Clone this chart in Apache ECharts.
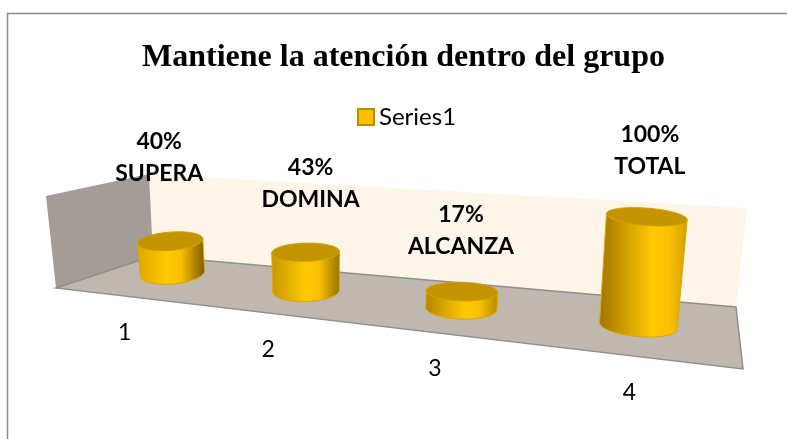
<!DOCTYPE html>
<html><head><meta charset="utf-8">
<style>html,body{margin:0;padding:0;background:#fff}#c{width:787px;height:439px}</style>
<script src="https://cdn.jsdelivr.net/npm/echarts@6/dist/echarts.min.js"></script>
</head><body><div id="c"></div>
<script>
const chartTitle = 'Mantiene la atención dentro del grupo';
const seriesName = 'Series1';
const categories = ['1', '2', '3', '4'];
const levelNames = ['SUPERA', 'DOMINA', 'ALCANZA', 'TOTAL'];
const percentages = [40, 43, 17, 100];

// Hand placed labels of the original, as shifts from the projected cylinder
const labelNudge = [[-11, -84], [5, -69], [-1, -61], [3, -66]];
const tickNudge = [[-48, 59], [-38, 59], [-26.5, 60], [-9, 67]];

const UI = 'Lato, "Open Sans", sans-serif';

// Perspective: s runs along the category axis, t up the value axis (0..1)
function project(s, t) {
  const bx = 114 + 447 * s + 174 * s * s;
  const by = 264.75 + 70 * s;
  const k = 0.76 + 0.38 * s;
  const lean = -8.4 + 19.3 * s;
  return [bx + lean * t, by - 100 * k * t];
}
function ellipse(c, rx, ry, rotDeg, from, to, n) {
  const phi = rotDeg * Math.PI / 180, pts = [];
  for (let i = 0; i <= n; i++) {
    const a = (from + (to - from) * i / n) * Math.PI / 180;
    pts.push([
      c[0] + rx * Math.cos(a) * Math.cos(phi) - ry * Math.sin(a) * Math.sin(phi),
      c[1] + rx * Math.cos(a) * Math.sin(phi) + ry * Math.sin(a) * Math.cos(phi)
    ]);
  }
  return pts;
}
function mix(a, b, f) {
  return 'rgb(' + a.map((v, i) => Math.round(v + (b[i] - v) * f)).join(',') + ')';
}

function renderCylinder(params, api) {
  const i = api.value(0), v = api.value(1), g = params.coordSys;
  const base = api.coord([i, 0]), top = api.coord([i, v]);
  const s = (base[0] - g.x) / g.width;
  const t = (base[1] - top[1]) / g.height;
  const B = project(s, 0), T = project(s, t);
  const rx = 32 + 9 * s * s;
  const rot = 12 * (s - 0.5);
  const rotB = 14 * (s - 0.5);
  const rxT = rx * (1 + 0.04 * t);
  const ryT = 9.4 - 0.8 * t;
  const lower = ellipse(B, rx, 10.5, rotB, 180, 0, 32);
  const upper = ellipse(T, rxT, ryT, rot, 0, 180, 32);
  const leftC = mix([232, 176, 0], [150, 108, 0], s);
  const rightC = mix([105, 78, 0], [226, 170, 0], s);
  const mid = 0.42 + 0.2 * s;
  const grad = new echarts.graphic.LinearGradient(0, 0, 1, 0, [
    { offset: 0, color: leftC },
    { offset: mid, color: '#FFC800' },
    { offset: Math.min(mid + 0.2, 0.92), color: '#FBC000' },
    { offset: 1, color: rightC }
  ]);
  const labelAt = [T[0] + labelNudge[i][0], T[1] + labelNudge[i][1]];
  const tickAt = [B[0] + tickNudge[i][0], B[1] + tickNudge[i][1]];
  return {
    type: 'group',
    children: [
      { type: 'polygon', shape: { points: lower.concat(upper) },
        style: { fill: grad, stroke: '#DCA800', lineWidth: 1 } },
      { type: 'polygon', shape: { points: ellipse(T, rxT, ryT, rot, 0, 360, 48) },
        style: { fill: '#C49500', stroke: '#CFA000', lineWidth: 1 } },
      { type: 'text', x: labelAt[0], y: labelAt[1], z2: 10,
        style: { text: percentages[i] + '%\n' + levelNames[i], fill: '#000', align: 'center',
          verticalAlign: 'middle', font: 'bold 23px ' + UI, lineHeight: 32 } },
      { type: 'text', x: tickAt[0], y: tickAt[1], z2: 10,
        style: { text: categories[i], fill: '#000', align: 'center', verticalAlign: 'middle',
          font: '23px ' + UI } }
    ]
  };
}

const chart = echarts.init(document.getElementById('c'), null, { renderer: 'canvas' });
chart.setOption({
  animation: false,
  backgroundColor: '#fff',
  title: { text: chartTitle, left: 137, top: 37, itemGap: 0,
    textStyle: { fontFamily: '"Liberation Serif", serif', fontWeight: 'bold', fontSize: 32, color: '#000' } },
  legend: { data: [seriesName], icon: 'rect', left: 352, top: 100, itemWidth: 16, itemHeight: 16, itemGap: 5,
    textStyle: { fontFamily: UI, fontSize: 24, color: '#000' } },
  grid: { left: 100, right: 50, top: 120, bottom: 100 },
  xAxis: { type: 'category', data: categories, show: false },
  yAxis: { type: 'value', min: 0, max: 100, show: false },
  graphic: { elements: [
    { type: 'polyline', z: 0, shape: { points: [[7.5, 440], [7.5, 13.5], [790, 13.5]] },
      style: { stroke: '#8C8C8C', lineWidth: 1.5, fill: null } },
    { type: 'polygon', z: 0, shape: { points: [[149, 174], [747, 208], [736, 307], [153, 256]] },
      style: { fill: '#FEF5E9' } },
    { type: 'polygon', z: 0, shape: { points: [[46, 196], [149, 174], [153, 256], [56, 288]] },
      style: { fill: '#A49D97' } },
    { type: 'polygon', z: 0, shape: { points: [[56, 288], [153, 256], [736, 307], [743, 369]] },
      style: { fill: '#C0B8AF', stroke: '#8F8F8F', lineWidth: 1.5 } }
  ] },
  series: [{
    type: 'custom', name: seriesName, coordinateSystem: 'cartesian2d',
    itemStyle: { color: '#FFC000', borderColor: '#B89000', borderWidth: 1 },
    encode: { x: 0, y: 1 },
    renderItem: renderCylinder,
    data: percentages.map((v, i) => [i, v])
  }]
});
</script></body></html>
